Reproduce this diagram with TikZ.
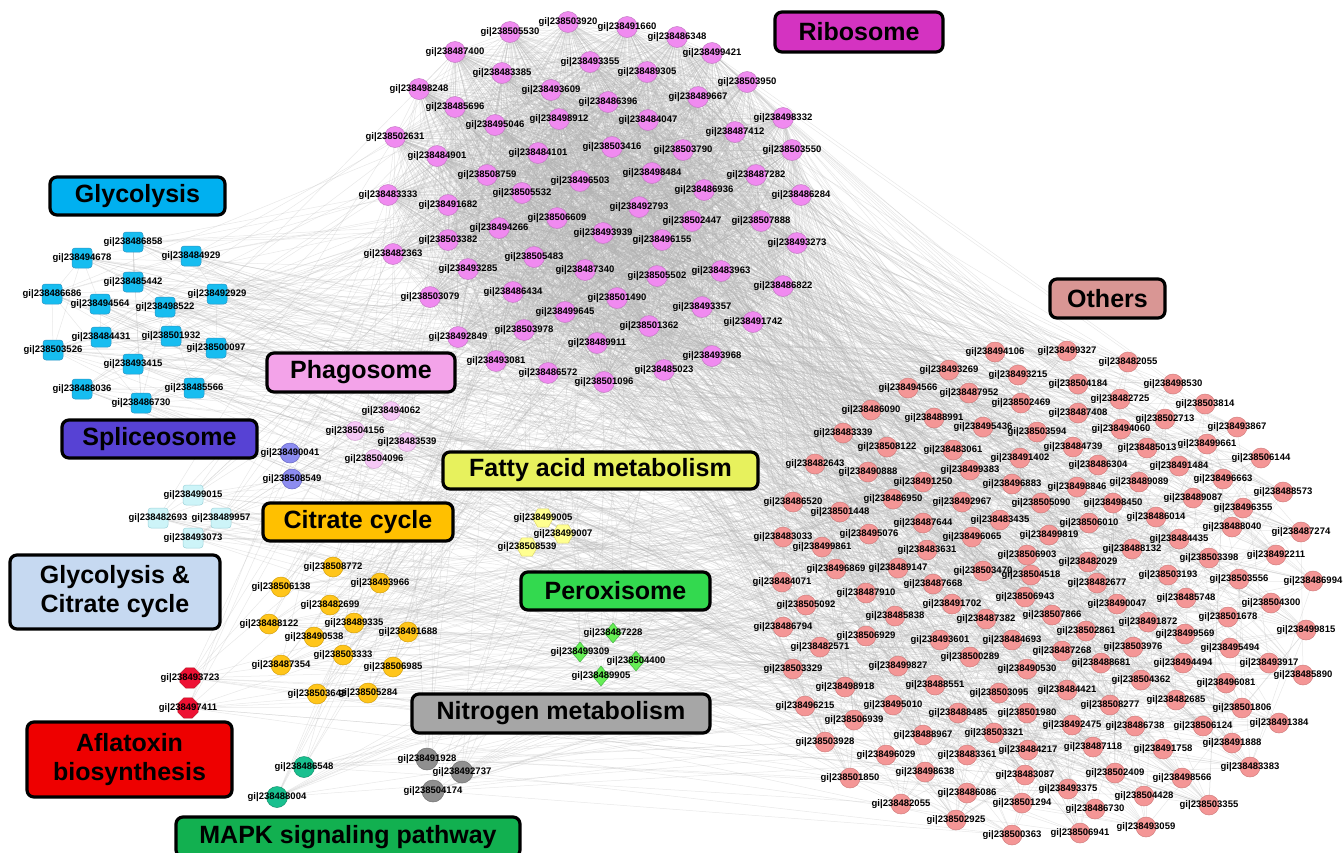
\documentclass[tikz,border=0pt]{standalone}
\usepackage{fontspec}
\setmainfont{Liberation Sans}
\usetikzlibrary{shapes.geometric}
% node fills and outlines
\definecolor{ribfill}{HTML}{F08AF0}
\definecolor{ribline}{HTML}{C47AC4}
\definecolor{othfill}{HTML}{F49696}
\definecolor{othline}{HTML}{D27E7E}
\definecolor{glyfill}{HTML}{17BDF0}
\definecolor{glyline}{HTML}{2C95C4}
\definecolor{gcyfill}{HTML}{CDF4F8}
\definecolor{gcyline}{HTML}{9ED3DA}
\definecolor{phafill}{HTML}{F6C8F6}
\definecolor{phaline}{HTML}{D2A2D2}
\definecolor{splfill}{HTML}{8C8CF0}
\definecolor{splline}{HTML}{6666C4}
\definecolor{fatfill}{HTML}{FFFF90}
\definecolor{fatline}{HTML}{DCD468}
\definecolor{citfill}{HTML}{FFC51A}
\definecolor{citline}{HTML}{D6A10C}
\definecolor{aflfill}{HTML}{EE1133}
\definecolor{aflline}{HTML}{B0101E}
\definecolor{mapfill}{HTML}{19C08F}
\definecolor{mapline}{HTML}{12906C}
\definecolor{nitfill}{HTML}{8F8F8F}
\definecolor{nitline}{HTML}{707070}
\definecolor{perfill}{HTML}{66EE55}
\definecolor{perline}{HTML}{44B444}
\definecolor{linkgray}{HTML}{B4B4B4}
% category boxes
\definecolor{ribcat}{HTML}{D433C1}
\definecolor{glycat}{HTML}{00B0F0}
\definecolor{othcat}{HTML}{D99694}
\definecolor{phacat}{HTML}{F3A3E9}
\definecolor{splcat}{HTML}{5742D4}
\definecolor{fatcat}{HTML}{E7F15D}
\definecolor{citcat}{HTML}{FFC000}
\definecolor{gcycat}{HTML}{C6D9F1}
\definecolor{percat}{HTML}{33D94F}
\definecolor{aflcat}{HTML}{EE0000}
\definecolor{nitcat}{HTML}{A6A6A6}
\definecolor{mapcat}{HTML}{12B050}
\pgfdeclarelayer{bg}
\pgfdeclarelayer{links}
\pgfsetlayers{bg,links,main}
% node tables: x/y/gi number
\newcommand\ribnodes{
510/32/238505530, 568/22/238503920, 455/52/238487400, 502/73/238483385, 419/89/238498248,
551/90/238493609, 455/107/238485696, 495/125/238495046, 559/119/238498912, 395/137/238502631,
437/156/238484901, 538/153/238484101, 487/175/238508759, 522/193/238505532, 388/195/238483333,
627/27/238491660, 677/37/238486348, 712/53/238499421, 590/62/238493355, 647/72/238489305,
747/82/238503950, 698/97/238489667, 608/102/238486396, 783/118/238498332, 648/120/238484047,
735/132/238487412, 612/147/238503416, 683/150/238503790, 792/150/238503550, 652/173/238498484,
756/175/238487282, 704/190/238486936, 580/181/238496503, 801/195/238486284, 448/205/238491682,
557/218/238506609, 499/228/238494266, 448/240/238503382, 393/254/238482363, 534/257/238505483,
468/269/238493285, 430/297/238503079, 513/292/238486434, 565/312/238499645, 458/337/238492849,
524/330/238503978, 496/361/238493081, 548/373/238486572, 585/270/238487340, 639/207/238492793,
692/221/238502447, 761/221/238507888, 603/233/238493939, 662/240/238496155, 797/243/238493273,
657/276/238505502, 721/271/238483963, 783/286/238486822, 617/298/238501490, 702/307/238493357,
753/322/238491742, 649/326/238501362, 597/343/238489911, 712/356/238493968, 664/370/238485023,
604/382/238501096}
\newcommand\othnodes{
995/352/238494106, 949/370/238493269, 1018/375/238493215, 908/388/238494566, 969/393/238487952,
1021/403/238502469, 871/410/238486090, 934/418/238488991, 983/427/238495436, 1037/432/238503594,
843/433/238483339, 887/447/238508122, 953/450/238483061, 1020/458/238491402, 815/464/238482643,
868/472/238490888, 970/470/238499383, 923/482/238491250, 1012/484/238496883, 793/502/238486520,
893/499/238486950, 962/502/238492967, 1041/503/238505090, 840/512/238501448, 1067/351/238499327,
1128/362/238482055, 1078/384/238504184, 1173/384/238498530, 1120/399/238482725, 1205/404/238503814,
1078/413/238487408, 1165/419/238502713, 1237/427/238493867, 1121/429/238494060, 1073/447/238484739,
1147/448/238485013, 1207/444/238499661, 1261/458/238506144, 1098/465/238486304, 1179/466/238491484,
1139/482/238489089, 1077/487/238498846, 1223/479/238496663, 1283/492/238488573, 1113/503/238498450,
1193/498/238489087, 1243/508/238496355, 1156/517/238486014, 1089/523/238506010, 1049/535/238499819,
1232/527/238488040, 1301/532/238487274, 1179/539/238484435, 1132/549/238488132, 1027/555/238506903,
1088/562/238482029, 1209/558/238503398, 1276/555/238492211, 1031/575/238504518, 1097/583/238482677,
1168/575/238503193, 1239/579/238503556, 1313/581/238486994, 923/523/238487644, 1000/520/238483435,
783/537/238483033, 869/534/238495076, 972/537/238496065, 822/547/238499861, 927/550/238483631,
836/569/238496869, 898/568/238489147, 983/571/238503470, 782/582/238484071, 933/584/238487668,
866/593/238487910, 1025/597/238506943, 806/605/238505092, 952/604/238491702, 895/616/238485838,
986/619/238487382, 783/627/238486794, 866/636/238506929, 820/647/238482571, 940/640/238493601,
1012/640/238484693, 970/657/238500289, 898/666/238499827, 793/669/238503329, 1117/604/238490047,
1186/598/238485748, 1271/603/238504300, 1052/615/238507866, 1148/622/238491872, 1228/617/238501678,
1306/630/238499815, 1086/631/238502861, 1185/634/238499569, 1133/647/238503976, 1062/651/238487268,
1230/648/238495494, 1027/669/238490530, 1101/663/238488681, 1183/663/238494494, 1269/663/238493917,
1303/675/238485890, 1141/680/238504362, 1226/683/238496081, 1067/690/238484421, 1110/705/238508277,
1176/700/238482685, 1242/708/238501806, 1027/713/238501980, 1072/725/238492475, 1135/726/238486738,
1203/726/238506124, 1279/723/238491384, 1028/750/238484217, 1093/747/238487118, 1163/749/238491758,
1232/743/238491888, 1025/775/238483087, 1115/773/238502409, 1182/778/238498566, 1250/767/238483383,
1068/789/238493375, 1144/796/238504428, 1022/803/238501294, 1095/809/238486730, 1209/805/238503355,
1146/827/238493059, 1080/833/238506941, 1012/835/238500363, 845/687/238498918, 935/685/238488551,
999/693/238503095, 805/706/238496215, 893/705/238495010, 958/713/238488485, 854/720/238506939,
923/735/238488967, 994/733/238503321, 825/742/238503928, 886/755/238496029, 967/755/238483361,
850/778/238501850, 925/772/238498638, 967/793/238486086, 901/804/238482055, 956/820/238502925}
\newcommand\glynodes{
133/242/238486858, 82/258/238494678, 191/256/238484929, 133/282/238485442, 52/294/238486686,
100/304/238494564, 217/294/238492929, 165/307/238498522, 101/337/238484431, 171/336/238501932,
53/350/238503526, 216/348/238500097, 133/364/238493415, 82/389/238488036, 194/388/238485566,
141/403/238486730}
\newcommand\phanodes{391/411/238494062, 355/431/238504156, 407/442/238483539, 374/459/238504096}
\newcommand\splnodes{290/453/238490041, 292/479/238508549}
\newcommand\gcynodes{193/495/238499015, 158/518/238482693, 221/518/238489957, 193/538/238493073}
\newcommand\fatnodes{543/518/238499005, 563/534/238499007, 527/547/238508539}
\newcommand\citnodes{
333/567/238508772, 281/587/238506138, 380/583/238493966, 330/605/238482699, 269/624/238488122,
354/623/238489335, 314/637/238490538, 408/632/238491688, 343/655/238503333, 281/665/238487354,
393/667/238506985, 317/694/238503648, 368/693/238505284}
\newcommand\aflnodes{190/678/238493723, 188/708/238497411}
\newcommand\mapnodes{304/767/238486548, 277/797/238488004}
\newcommand\nitnodes{427/759/238491928, 462/772/238492737, 433/791/238504174}
\newcommand\pernodes{613/633/238487228, 580/652/238499309, 636/661/238504400, 601/676/238489905}

\begin{document}
\begin{tikzpicture}[x=1pt,y=-1pt,
  nd/.style={inner sep=0pt, line width=0.5pt},
  rib/.style={nd, circle, minimum size=21pt, fill=ribfill, draw=ribline},
  oth/.style={nd, circle, minimum size=20pt, fill=othfill, draw=othline},
  gly/.style={nd, rectangle, rounded corners=3pt, minimum size=20pt, fill=glyfill, draw=glyline},
  gcy/.style={nd, rectangle, rounded corners=3pt, minimum size=20pt, fill=gcyfill, draw=gcyline},
  pha/.style={nd, circle, minimum size=19pt, fill=phafill, draw=phaline},
  spl/.style={nd, circle, minimum size=20pt, fill=splfill, draw=splline},
  fat/.style={nd, regular polygon, regular polygon sides=6, minimum size=21pt, fill=fatfill, draw=fatline},
  cit/.style={nd, circle, minimum size=20pt, fill=citfill, draw=citline},
  afl/.style={nd, regular polygon, regular polygon sides=8, minimum size=22pt, fill=aflfill, draw=aflline},
  mapk/.style={nd, circle, minimum size=21pt, fill=mapfill, draw=mapline},
  nit/.style={nd, circle, minimum size=22pt, fill=nitfill, draw=nitline},
  per/.style={nd, diamond, minimum width=17pt, minimum height=20pt, fill=perfill, draw=perline},
  lbl/.style={inner sep=0pt, font=\fontsize{9.5}{10}\selectfont\bfseries},
  cat/.style={draw=black, line width=3.2pt, rounded corners=7pt, inner sep=0pt, align=center, font=\fontsize{25}{29}\selectfont\bfseries},
  link/.style={draw=linkgray, line width=0.5pt, opacity=0.3},
]
\useasboundingbox (0,0) rectangle (1344,852);
\begin{pgfonlayer}{bg}
\fill[white] (0,0) rectangle (1344,852);
\end{pgfonlayer}

% nodes
\foreach \x/\y/\g [count=\i] in \ribnodes {\node[rib] (r\i) at (\x,\y) {};}
\foreach \x/\y/\g [count=\i] in \othnodes {\node[oth] (o\i) at (\x,\y) {};}
\foreach \x/\y/\g [count=\i] in \glynodes {\node[gly] (g\i) at (\x,\y) {};}
\foreach \x/\y/\g [count=\i] in \phanodes {\node[pha] (p\i) at (\x,\y) {};}
\foreach \x/\y/\g [count=\i] in \splnodes {\node[spl] (sp\i) at (\x,\y) {};}
\foreach \x/\y/\g [count=\i] in \gcynodes {\node[gcy] (gc\i) at (\x,\y) {};}
\foreach \x/\y/\g [count=\i] in \fatnodes {\node[fat] (f\i) at (\x,\y) {};}
\foreach \x/\y/\g [count=\i] in \citnodes {\node[cit] (c\i) at (\x,\y) {};}
\foreach \x/\y/\g [count=\i] in \aflnodes {\node[afl] (a\i) at (\x,\y) {};}
\foreach \x/\y/\g [count=\i] in \mapnodes {\node[mapk] (m\i) at (\x,\y) {};}
\foreach \x/\y/\g [count=\i] in \nitnodes {\node[nit] (n\i) at (\x,\y) {};}
\foreach \x/\y/\g [count=\i] in \pernodes {\node[per] (x\i) at (\x,\y) {};}

% gene labels on top
\foreach \x/\y/\g [count=\i] in \ribnodes {\node[lbl] at (r\i) {gi|\g};}
\foreach \x/\y/\g [count=\i] in \othnodes {\node[lbl] at (o\i) {gi|\g};}
\foreach \x/\y/\g [count=\i] in \glynodes {\node[lbl] at (g\i) {gi|\g};}
\foreach \x/\y/\g [count=\i] in \phanodes {\node[lbl] at (p\i) {gi|\g};}
\foreach \x/\y/\g [count=\i] in \splnodes {\node[lbl] at (sp\i) {gi|\g};}
\foreach \x/\y/\g [count=\i] in \gcynodes {\node[lbl] at (gc\i) {gi|\g};}
\foreach \x/\y/\g [count=\i] in \fatnodes {\node[lbl] at (f\i) {gi|\g};}
\foreach \x/\y/\g [count=\i] in \citnodes {\node[lbl] at (c\i) {gi|\g};}
\foreach \x/\y/\g [count=\i] in \aflnodes {\node[lbl] at (a\i) {gi|\g};}
\foreach \x/\y/\g [count=\i] in \mapnodes {\node[lbl] at (m\i) {gi|\g};}
\foreach \x/\y/\g [count=\i] in \nitnodes {\node[lbl] at (n\i) {gi|\g};}
\foreach \x/\y/\g [count=\i] in \pernodes {\node[lbl] at (x\i) {gi|\g};}

% interactions
\pgfmathsetseed{2718}
\begin{pgfonlayer}{links}
\foreach \i in {1,...,65}{
  \pgfmathtruncatemacro{\k}{\i+1}
  \foreach \j in {\k,...,66}{\draw[link] (r\i.center) -- (r\j.center);}}
\foreach \n in {1,...,700}{
  \pgfmathrandominteger{\ea}{1}{66}\pgfmathrandominteger{\eb}{1}{150}
  \draw[link] (r\ea.center) -- (o\eb.center);}
\foreach \n in {1,...,500}{
  \pgfmathrandominteger{\ea}{1}{150}\pgfmathrandominteger{\eb}{1}{150}
  \draw[link] (o\ea.center) -- (o\eb.center);}
\foreach \n in {1,...,30}{
  \pgfmathrandominteger{\ea}{1}{16}\pgfmathrandominteger{\eb}{1}{16}
  \draw[link] (g\ea.center) -- (g\eb.center);}
\foreach \pre/\cnt in {g/16,p/4,sp/2,gc/4,f/3,c/13,a/2,m/2,n/3,x/4}{
  \foreach \i in {1,...,\cnt}{
    \foreach \k in {1,...,8}{\pgfmathrandominteger{\eb}{1}{150}
      \draw[link] (\pre\i.center) -- (o\eb.center);}
    \foreach \k in {1,...,4}{\pgfmathrandominteger{\ea}{1}{66}
      \draw[link] (\pre\i.center) -- (r\ea.center);}}}
\end{pgfonlayer}

% pathway boxes
\node[cat, fill=ribcat, minimum width=168pt, minimum height=40pt] (tribo) at (859,32) {Ribosome};
\node[cat, fill=glycat, minimum width=175pt, minimum height=38pt] (tglyc) at (137.5,196) {Glycolysis};
\node[cat, fill=othcat, minimum width=115pt, minimum height=39pt] (tothe) at (1107.5,298.5) {Others};
\node[cat, fill=phacat, minimum width=188pt, minimum height=39pt] (tphag) at (361,372.5) {Phagosome};
\node[cat, fill=splcat, minimum width=195pt, minimum height=38pt] (tspli) at (159.5,439) {Spliceosome};
\node[cat, fill=fatcat, minimum width=315pt, minimum height=37pt] (tfatt) at (600.5,470.5) {Fatty acid metabolism};
\node[cat, fill=citcat, minimum width=190pt, minimum height=38pt] (tcitr) at (358,522) {Citrate cycle};
\node[cat, fill=gcycat, minimum width=210pt, minimum height=74pt] (tglci) at (115,592) {Glycolysis \&\\Citrate cycle};
\node[cat, fill=percat, minimum width=189pt, minimum height=38pt] (tpero) at (615.5,591) {Peroxisome};
\node[cat, fill=aflcat, minimum width=205pt, minimum height=75pt] (tafla) at (129.5,759.5) {Aflatoxin\\biosynthesis};
\node[cat, fill=nitcat, minimum width=298pt, minimum height=39pt] (tnitr) at (561,713.5) {Nitrogen metabolism};
\node[cat, fill=mapcat, minimum width=344pt, minimum height=40pt] (tmapk) at (348,837) {MAPK signaling pathway};
\end{tikzpicture}
\end{document}
